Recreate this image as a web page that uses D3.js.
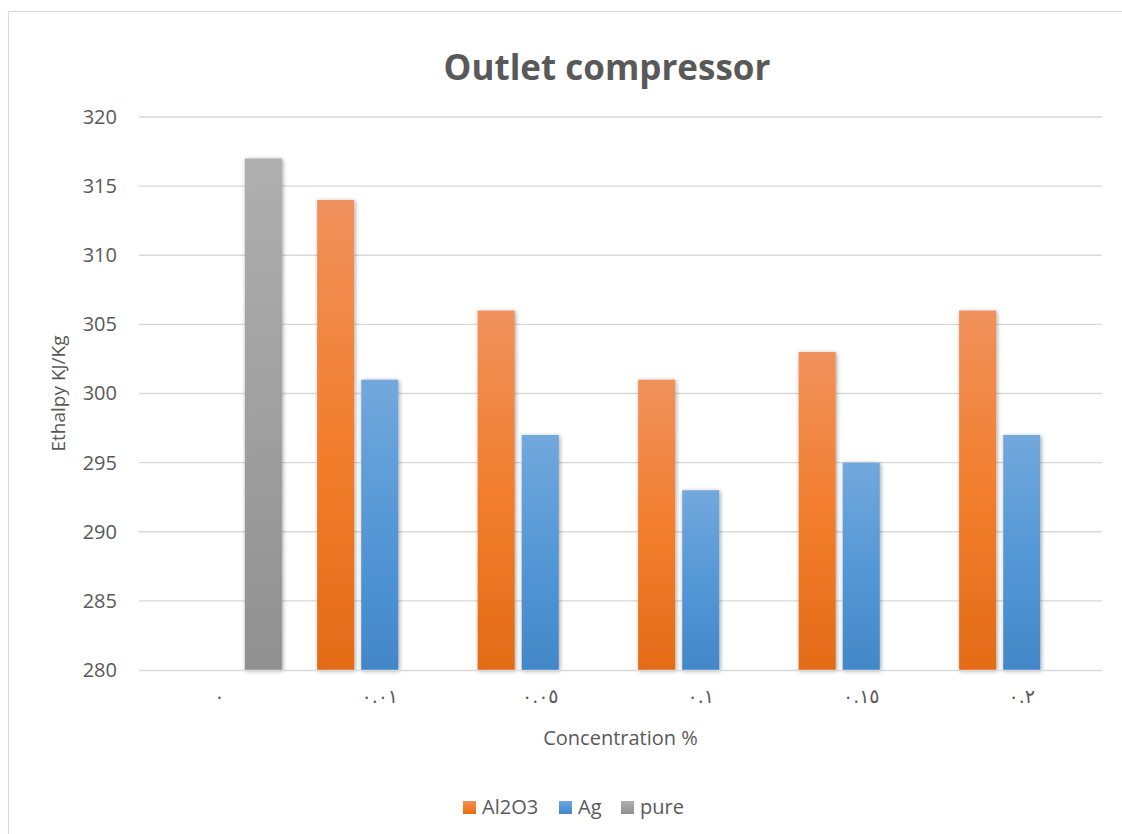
<!DOCTYPE html>
<html>
<head>
<meta charset="utf-8">
<script src="https://cdn.jsdelivr.net/npm/d3@7"></script>
<style>
  html, body { margin: 0; padding: 0; background: #fff; }
  svg { display: block; font-family: "Open Sans", "DejaVu Sans", sans-serif; }
</style>
</head>
<body>
<svg id="chart" width="1122" height="834"></svg>
<script>
// Concentration levels (Arabic-Indic numerals) and enthalpy readings
const categories = ["٠", "٠.٠١", "٠.٠٥", "٠.١", "٠.١٥", "٠.٢"];
const seriesNames = ["Al2O3", "Ag", "pure"];
const al2o3Values = [null, 314, 306, 301, 303, 306];
const agValues    = [null, 301, 297, 293, 295, 297];
const pureValues  = [317, null, null, null, null, null];
const yTicks = [280, 285, 290, 295, 300, 305, 310, 315, 320];

const seriesValues = { "Al2O3": al2o3Values, "Ag": agValues, "pure": pureValues };
const seriesColors = {
  "Al2O3": ["#F0915C", "#F27E2E", "#E46B17"],
  "Ag":    ["#72A8DC", "#5598D6", "#4387C8"],
  "pure":  ["#AFAFAF", "#A0A0A0", "#909090"]
};

const svg = d3.select("#chart");
const W = 1122, H = 834;
const plot = { left: 139, right: 1102, top: 117, bottom: 670 };
const textColor = "#595959";
const gridColor = "#D9D9D9";

// outer chart frame
svg.append("rect")
  .attr("x", 8.5).attr("y", 11.5)
  .attr("width", W + 20).attr("height", H + 20)
  .attr("fill", "#fff").attr("stroke", gridColor).attr("stroke-width", 1.2);

const defs = svg.append("defs");
seriesNames.forEach((s, i) => {
  const g = defs.append("linearGradient")
    .attr("id", "grad" + i).attr("x1", 0).attr("y1", 0).attr("x2", 0).attr("y2", 1);
  g.append("stop").attr("offset", "0%").attr("stop-color", seriesColors[s][0]);
  g.append("stop").attr("offset", "50%").attr("stop-color", seriesColors[s][1]);
  g.append("stop").attr("offset", "100%").attr("stop-color", seriesColors[s][2]);
});
const shadow = defs.append("filter").attr("id", "barShadow")
  .attr("x", "-30%").attr("y", "-10%").attr("width", "160%").attr("height", "120%");
shadow.append("feDropShadow")
  .attr("dx", 1).attr("dy", 1).attr("stdDeviation", 2.2)
  .attr("flood-color", "#000").attr("flood-opacity", 0.38);

const x = d3.scaleBand().domain(categories).range([plot.left, plot.right])
  .paddingInner(0).paddingOuter(0);
const xs = d3.scaleBand().domain(seriesNames).range([0, x.bandwidth()])
  .paddingInner(0.16).paddingOuter(0.4);
const y = d3.scaleLinear().domain([280, 320]).range([plot.bottom, plot.top]);

// horizontal gridlines
svg.append("g").selectAll("line").data(yTicks.slice(1)).join("line")
  .attr("x1", plot.left).attr("x2", plot.right)
  .attr("y1", d => y(d)).attr("y2", d => y(d))
  .attr("stroke", gridColor).attr("stroke-width", 1.3);

// y axis labels
const yAxis = d3.axisLeft(y).tickValues(yTicks).tickSize(0).tickPadding(22);
const yg = svg.append("g").attr("transform", `translate(${plot.left},0)`).call(yAxis);
yg.select(".domain").remove();
yg.selectAll("text").attr("fill", textColor).style("font-size", "20px")
  .style("font-family", "'Open Sans', sans-serif");

// bars
const rows = [];
categories.forEach((c, ci) => {
  seriesNames.forEach(s => {
    const v = seriesValues[s][ci];
    if (v != null) rows.push({ c, s, v });
  });
});
svg.append("g").selectAll("rect").data(rows).join("rect")
  .attr("x", d => x(d.c) + xs(d.s))
  .attr("width", xs.bandwidth())
  .attr("y", d => y(d.v))
  .attr("height", d => y(280) - y(d.v))
  .attr("fill", d => `url(#grad${seriesNames.indexOf(d.s)})`)
  .attr("filter", "url(#barShadow)");

// category axis
const xAxis = d3.axisBottom(x).tickSize(0).tickPadding(20);
const xg = svg.append("g").attr("transform", `translate(0,${plot.bottom})`).call(xAxis);
xg.select(".domain").attr("stroke", gridColor).attr("stroke-width", 1.5)
  .attr("d", `M${plot.left},0.5H${plot.right}`);
xg.selectAll("text").attr("fill", textColor).style("font-size", "19px")
  .style("font-family", "'DejaVu Sans', sans-serif").attr("direction", "ltr");

// titles
svg.append("text").attr("x", 607).attr("y", 80).attr("text-anchor", "middle")
  .attr("fill", textColor).style("font-size", "35px").style("font-weight", 700)
  .text("Outlet compressor");

svg.append("text").attr("x", (plot.left + plot.right) / 2).attr("y", 745)
  .attr("text-anchor", "middle").attr("fill", textColor).style("font-size", "20px")
  .text("Concentration %");

svg.append("text")
  .attr("transform", `translate(65,${(plot.top + plot.bottom) / 2}) rotate(-90)`)
  .attr("text-anchor", "middle").attr("fill", textColor).style("font-size", "19px")
  .text("Ethalpy KJ/Kg");

// legend
const legendX = { "Al2O3": 463, "Ag": 559, "pure": 621 };
const lg = svg.append("g");
seriesNames.forEach((s, i) => {
  lg.append("rect").attr("x", legendX[s]).attr("y", 801)
    .attr("width", 13).attr("height", 13).attr("fill", `url(#grad${i})`);
  lg.append("text").attr("x", legendX[s] + 19).attr("y", 814)
    .attr("fill", textColor).style("font-size", "20px").text(s);
});
</script>
</body>
</html>
